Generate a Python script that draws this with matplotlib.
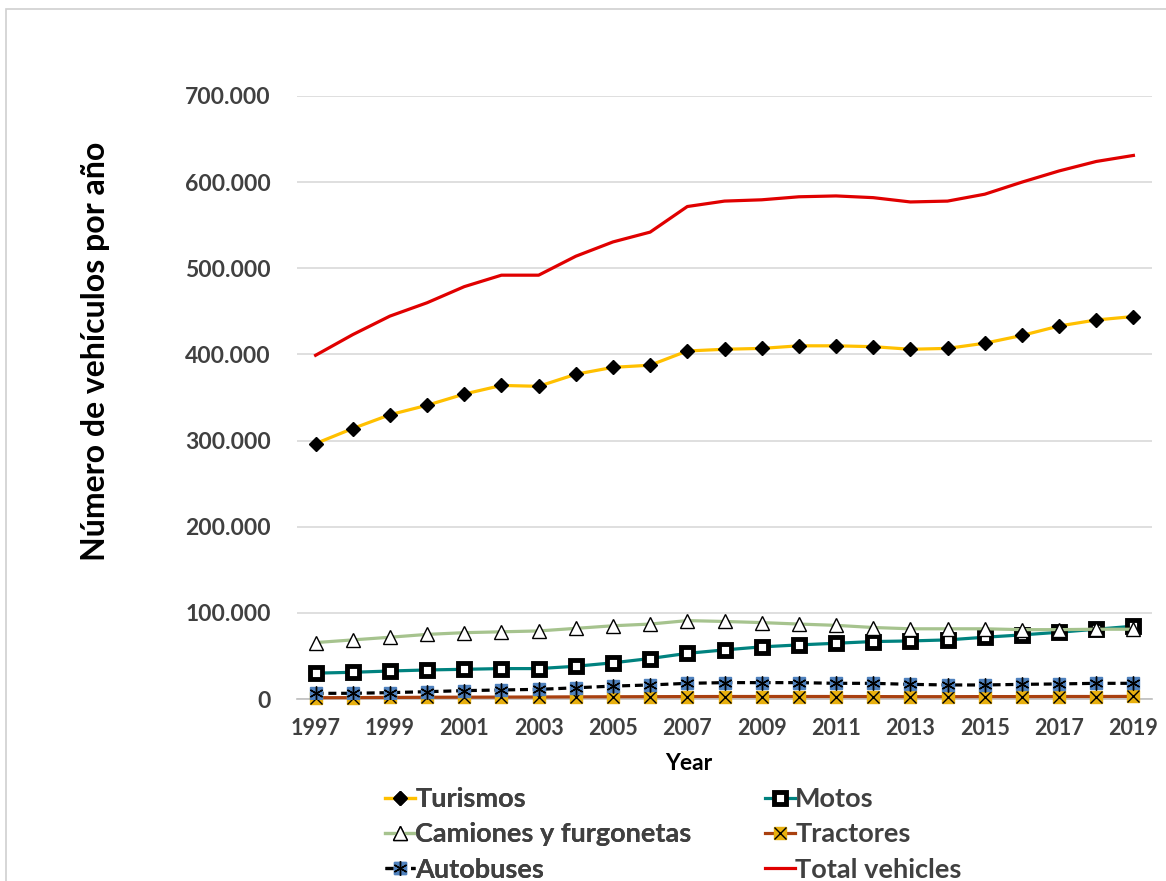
import matplotlib
matplotlib.use("Agg")
import matplotlib.pyplot as plt
from matplotlib.legend_handler import HandlerTuple
from matplotlib.patches import Rectangle
from matplotlib.ticker import FuncFormatter

plt.rcParams['font.family'] = ['Lato', 'DejaVu Sans']
plt.rcParams['font.weight'] = 'bold'

years = list(range(1997, 2020))
turismos = [296500, 314000, 330000, 341000, 354000, 364000, 363000, 377000, 385000, 387500, 404000, 406000,
            407000, 410000, 410000, 409000, 406000, 407000, 413000, 422000, 433000, 440000, 444000]
motos = [30000, 31000, 32500, 33700, 34500, 35300, 35300, 38000, 42000, 47000, 53000, 57000,
         60500, 62800, 64700, 66700, 67400, 68600, 71700, 74400, 77500, 81000, 84500]
camiones = [65500, 68600, 71700, 75000, 77000, 78000, 79000, 82000, 85000, 87000, 91000, 90000,
            88700, 87000, 85500, 83000, 81500, 81500, 81500, 80500, 80500, 81000, 81000]
tractores = [1500, 1600, 1800, 2000, 2100, 2200, 2300, 2500, 2600, 2700, 2800, 2900,
             2900, 2900, 2900, 2800, 2700, 2700, 2800, 2800, 2900, 2900, 3000]
autobuses = [6600, 6600, 7400, 8500, 9700, 10500, 11200, 13000, 15000, 16300, 18200, 19000,
             19000, 19000, 18200, 18200, 17000, 16300, 16300, 17000, 17500, 18200, 18200]
total = [399000, 423000, 444500, 460000, 478700, 492000, 492000, 514000, 530600, 542000, 571700, 578000,
         579500, 583000, 584000, 582000, 577000, 578000, 586000, 600000, 613000, 624000, 631000]

W, H = 1166, 881
fig = plt.figure(figsize=(W / 100, H / 100), dpi=100)
fig.patches.append(Rectangle((6 / W, -0.1), 1.2, 1 - 9 / H + 0.1, transform=fig.transFigure,
                             fill=False, edgecolor='#D0D0D0', linewidth=1.2))
ax = fig.add_axes([297 / W, 1 - 699 / H, (1152 - 297) / W, (699 - 96) / H])

l_tur, = ax.plot(years, turismos, color='#FFC000', lw=2.3, marker='D', ms=7,
                 mfc='black', mec='black', zorder=3)
l_mot, = ax.plot(years, motos, color='#00827F', lw=2.3, marker='s', ms=8,
                 mfc='white', mec='black', mew=3.5, zorder=3)
l_cam, = ax.plot(years, camiones, color='#A6C38E', lw=2.3, marker='^', ms=10,
                 mfc='white', mec='black', mew=1, zorder=3)
l_tra, = ax.plot(years, tractores, color='#A9400F', lw=2.3, marker='s', ms=9,
                 mfc='#E8B00E', mec='#E8B00E', zorder=3, clip_on=False)
x_tra, = ax.plot(years, tractores, ls='none', marker='x', ms=8, mec='black', mew=1,
                 zorder=3.1, clip_on=False)
l_aut, = ax.plot(years, autobuses, color='black', lw=2.3, ls=(0, (2.5, 1.5)), marker='s', ms=9,
                 mfc='#4F81BD', mec='#4F81BD', zorder=3.2)
x_aut, = ax.plot(years, autobuses, ls='none', marker=(6, 2, 0), ms=10, mec='black', mew=1,
                 zorder=3.3)
l_tot, = ax.plot(years, total, color='#E00000', lw=2.3, zorder=3.4)

ax.set_xlim(1996.5, 2019.5)
ax.set_ylim(0, 700000)
ax.set_yticks(range(0, 700001, 100000))
ax.yaxis.set_major_formatter(FuncFormatter(lambda v, p: f"{int(v):,}".replace(',', '.')))
ax.set_xticks(years[::2])
ax.grid(axis='y', color='#D9D9D9', lw=1.2)
ax.set_axisbelow(True)
for s in ['top', 'right', 'left']:
    ax.spines[s].set_visible(False)
ax.spines['bottom'].set_color('#BFBFBF')
ax.spines['bottom'].set_linewidth(1.2)
ax.tick_params(axis='y', length=0, pad=19, labelsize=16.5, labelcolor='#404040')
ax.tick_params(axis='x', length=0, pad=14, labelsize=15.5, labelcolor='#404040')

fig.text(96 / W, 1 - 351 / H, 'Número de vehículos por año', rotation=90, ha='center', va='center',
         fontsize=23, fontweight='bold', color='black')
fig.text(689 / W, 1 - 763 / H, 'Year', ha='center', va='center', fontsize=16.5, fontweight='bold',
         color='black')

leg_kw = dict(loc='upper left', frameon=False, fontsize=19.5, borderpad=0, borderaxespad=0,
              handlelength=1.1, handletextpad=0.02, labelspacing=0.42,
              handler_map={tuple: HandlerTuple(ndivide=1)}, labelcolor='#404040')
leg1 = fig.legend([l_tur, l_cam, (l_aut, x_aut)], ['Turismos', 'Camiones y furgonetas', 'Autobuses'],
                  bbox_to_anchor=(385 / W, 1 - 787 / H), **leg_kw)
fig.legend([l_mot, (l_tra, x_tra), l_tot], ['Motos', 'Tractores', 'Total vehicles'],
           bbox_to_anchor=(765 / W, 1 - 787 / H), **leg_kw)
fig.add_artist(leg1)

fig.savefig('out.png', dpi=100)
